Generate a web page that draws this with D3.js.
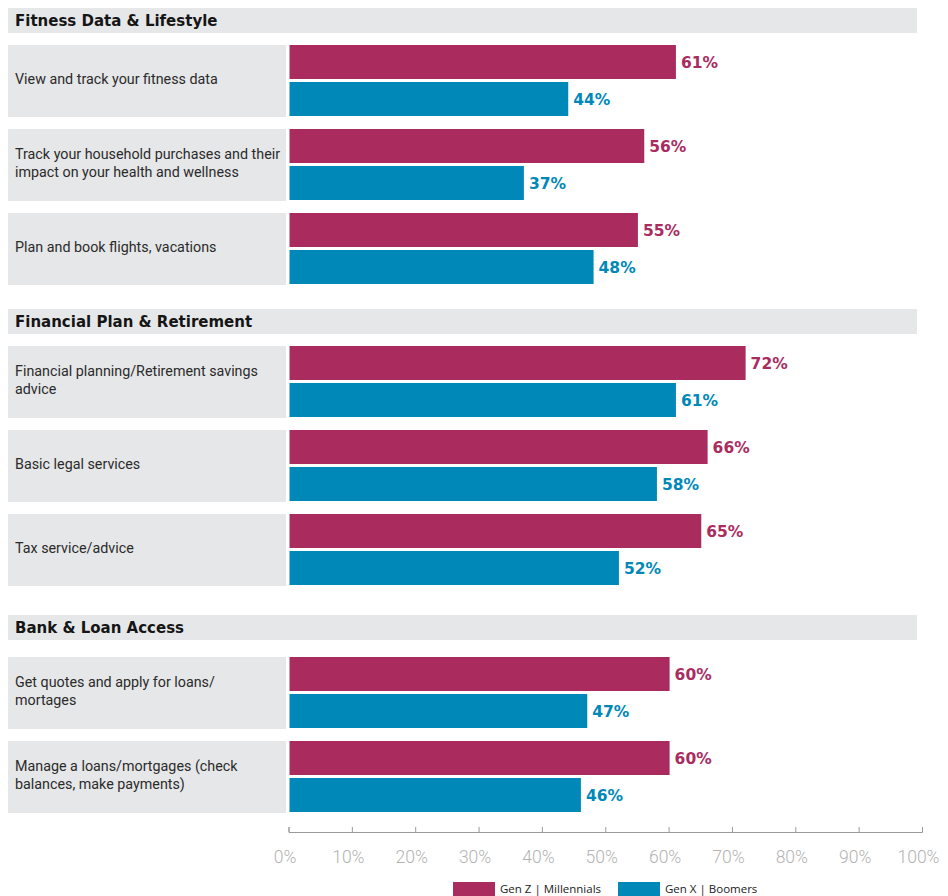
<!DOCTYPE html>
<html>
<head>
<meta charset="utf-8">
<script src="https://cdn.jsdelivr.net/npm/d3@7/dist/d3.min.js"></script>
<style>
  html, body { margin: 0; padding: 0; background: #fff; }
  svg { display: block; }
</style>
</head>
<body>
<svg id="chart" width="948" height="896"></svg>
<script>
// Section headings
const sections = ["Fitness Data & Lifestyle", "Financial Plan & Retirement", "Bank & Loan Access"];

// Which section each category belongs to
const categorySection = [0, 0, 0, 1, 1, 1, 2, 2];

// Category labels (line breaks where the label wraps)
const categories = [
  "View and track your fitness data",
  "Track your household purchases and their\nimpact on your health and wellness",
  "Plan and book flights, vacations",
  "Financial planning/Retirement savings\nadvice",
  "Basic legal services",
  "Tax service/advice",
  "Get quotes and apply for loans/\nmortages",
  "Manage a loans/mortgages (check\nbalances, make payments)"
];

// Series values (%)
const seriesNames = ["Gen Z | Millennials", "Gen X | Boomers"];
const genZMillennials = [61, 56, 55, 72, 66, 65, 60, 60];
const genXBoomers     = [44, 37, 48, 61, 58, 52, 47, 46];

// Axis ticks
const tickValues = [0, 10, 20, 30, 40, 50, 60, 70, 80, 90, 100];

const colors = ["#AA2C5F", "#0088B8"];
const panelGrey = "#E6E7E8";

const svg = d3.select("#chart");

// Horizontal scale shared by bars and axis
const x = d3.scaleLinear().domain([0, 100]).range([289.5, 923]);

// Vertical layout: section header bands followed by category rows
const headerTops = [8, 309, 615];
const headerH = 25;
const rowGapAfterHeader = [12, 12, 17];
const rowH = 72, rowPitch = 84;
const barH = 34, barGap = 3;

const rowTop = [];
sections.forEach((s, si) => {
  let y0 = headerTops[si] + headerH + rowGapAfterHeader[si];
  categorySection.forEach((sec, i) => {
    if (sec === si) { rowTop[i] = y0; y0 += rowPitch; }
  });
});

// Section header bands
const headers = svg.append("g").selectAll("g").data(sections).join("g")
  .attr("transform", (d, i) => `translate(0,${headerTops[i]})`);
headers.append("rect")
  .attr("x", 8).attr("width", 909).attr("height", headerH)
  .attr("fill", panelGrey);
headers.append("text")
  .attr("x", 15).attr("y", headerH / 2).attr("dy", "0.36em")
  .attr("font-family", "'DejaVu Sans', sans-serif")
  .attr("font-weight", 700).attr("font-size", 15).attr("fill", "#151515")
  .text(d => d);

// Category rows
const rows = svg.append("g").selectAll("g").data(categories).join("g")
  .attr("transform", (d, i) => `translate(0,${rowTop[i]})`);

rows.append("rect")
  .attr("x", 8).attr("width", 278).attr("height", rowH)
  .attr("fill", panelGrey);

rows.append("text")
  .attr("font-family", "Roboto, 'DejaVu Sans', sans-serif")
  .attr("font-size", 14.3).attr("fill", "#2b2b2b")
  .each(function(d) {
    const lines = d.split("\n");
    const lh = 18;
    const start = rowH / 2 - (lines.length - 1) * lh / 2 - 2;
    d3.select(this).selectAll("tspan").data(lines).join("tspan")
      .attr("x", 15)
      .attr("y", (l, j) => start + j * lh)
      .attr("dy", "0.36em")
      .text(l => l);
  });

const series = [genZMillennials, genXBoomers];

series.forEach((vals, si) => {
  const g = svg.append("g");
  const yOff = si * (barH + barGap);
  g.selectAll("rect").data(vals).join("rect")
    .attr("x", x(0))
    .attr("y", (v, i) => rowTop[i] + yOff)
    .attr("width", v => x(v) - x(0))
    .attr("height", barH)
    .attr("fill", colors[si]);
  g.selectAll("text").data(vals).join("text")
    .attr("x", v => x(v) + 5)
    .attr("y", (v, i) => rowTop[i] + yOff + barH / 2)
    .attr("dy", "0.36em")
    .attr("font-family", "'DejaVu Sans', sans-serif")
    .attr("font-weight", 700).attr("font-size", 15.5)
    .attr("fill", colors[si])
    .text(v => v + "%");
});

// Bottom axis with upward ticks
const axis = d3.axisBottom(x)
  .tickValues(tickValues)
  .tickFormat(d => d + "%")
  .tickSizeInner(-5).tickSizeOuter(-5)
  .tickPadding(19);

const axisG = svg.append("g")
  .attr("transform", "translate(-1,832)")
  .call(axis);
axisG.select(".domain").attr("stroke", "#9a9a9a");
axisG.selectAll(".tick line").attr("stroke", "#9a9a9a");
axisG.selectAll(".tick text")
  .attr("dx", -4)
  .attr("font-family", "Roboto, 'DejaVu Sans', sans-serif")
  .attr("font-weight", 300)
  .attr("font-size", 17.5).attr("fill", "#b3b3b3");

// Legend
const legendX = [453, 618];
const legend = svg.append("g").selectAll("g").data(seriesNames).join("g")
  .attr("transform", (d, i) => `translate(${legendX[i]},882)`);
legend.append("rect")
  .attr("width", 42).attr("height", 14)
  .attr("fill", (d, i) => colors[i]);
legend.append("text")
  .attr("x", 47).attr("y", 7).attr("dy", "0.36em")
  .attr("font-family", "'Open Sans', sans-serif")
  .attr("font-size", 11.5).attr("fill", "#222")
  .text(d => d);
</script>
</body>
</html>
